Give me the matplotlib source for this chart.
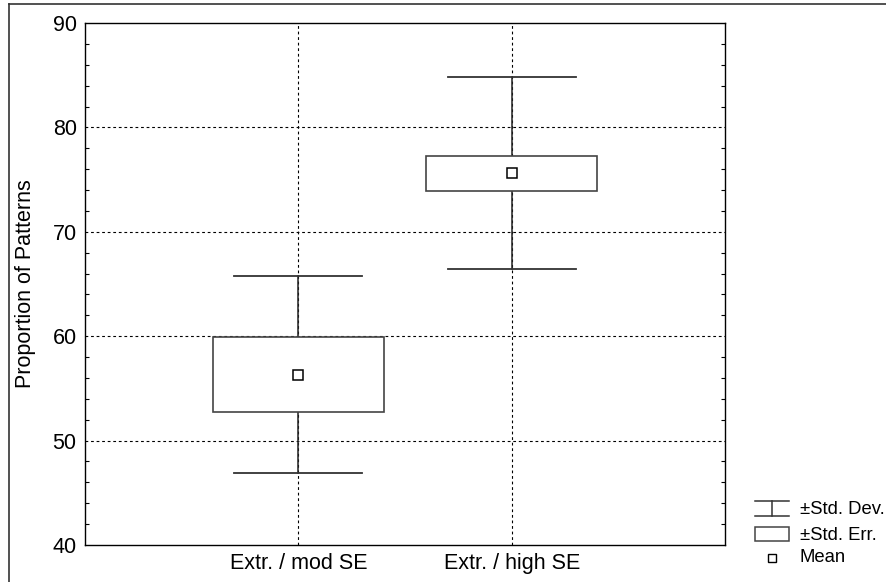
import matplotlib
matplotlib.use("Agg")
import matplotlib.pyplot as plt
from matplotlib.lines import Line2D
from matplotlib.patches import Rectangle

plt.rcParams['font.family'] = ['Liberation Sans', 'DejaVu Sans']

categories = ["Extr. / mod SE", "Extr. / high SE"]
means = [56.3, 75.6]
se_low = [52.7, 73.9]
se_high = [59.9, 77.3]
sd_low = [46.9, 66.4]
sd_high = [65.8, 84.8]
yticks = [40, 50, 60, 70, 80, 90]

fig = plt.figure(figsize=(8.87, 5.82), dpi=100)
ax = fig.add_axes([85/887, 1-545/582, 640/887, 522/582])

positions = [1, 2]
box_w = 0.8
cap_w = 0.6
grid_kw = dict(color='black', lw=0.8, linestyle=(0, (2.5, 2.5)), zorder=1)

for y in yticks[1:-1]:
    ax.axhline(y, **grid_kw)
for p in positions:
    ax.axvline(p, **grid_kw)

for p, m, sl, sh, dl, dh in zip(positions, means, se_low, se_high, sd_low, sd_high):
    ax.add_patch(Rectangle((p - box_w/2, sl), box_w, sh - sl, facecolor='white',
                           edgecolor='#444444', lw=1.2, zorder=3))
    ax.plot([p, p], [sh, dh], color='#222222', lw=1.1, zorder=2)
    ax.plot([p, p], [dl, sl], color='#222222', lw=1.1, zorder=2)
    ax.plot([p - cap_w/2, p + cap_w/2], [dh, dh], color='#333333', lw=1.3, zorder=3)
    ax.plot([p - cap_w/2, p + cap_w/2], [dl, dl], color='#333333', lw=1.3, zorder=3)
    ax.plot([p], [m], marker='s', markersize=6.5, markerfacecolor='white',
            markeredgecolor='black', markeredgewidth=1.1, zorder=4, linestyle='none')

ax.set_xlim(0, 3)
ax.set_ylim(40, 90)
ax.set_xticks(positions)
ax.set_xticklabels(categories, fontsize=15.5)
ax.set_yticks(yticks)
ax.set_yticklabels([str(v) for v in yticks], fontsize=15.5)
ax.set_yticks(range(40, 91, 2), minor=True)
ax.tick_params(axis='both', which='major', length=0, pad=6)
ax.tick_params(axis='y', which='minor', direction='in', length=3, width=0.8,
               left=True, right=True)
ax.tick_params(axis='x', which='minor', length=0)
ax.set_ylabel("Proportion of Patterns", fontsize=15.5, labelpad=12)
for s in ax.spines.values():
    s.set_linewidth(1.0)
    s.set_color('black')

# outer frame
fig.add_artist(Line2D([9/887, 1.0], [1-4/582, 1-4/582], transform=fig.transFigure,
                      color='#333333', lw=1.2))
fig.add_artist(Line2D([9/887, 9/887], [0, 1-4/582], transform=fig.transFigure,
                      color='#333333', lw=1.2))

# legend
W, H = 887, 582
def fx(x): return x / W
def fy(y): return 1 - y / H
tr = fig.transFigure
lx0, lx1 = 755, 789
# std dev symbol
fig.add_artist(Line2D([fx(lx0), fx(lx1)], [fy(501), fy(501)], transform=tr, color='#333333', lw=1.1))
fig.add_artist(Line2D([fx(lx0), fx(lx1)], [fy(516), fy(516)], transform=tr, color='#333333', lw=1.1))
fig.add_artist(Line2D([fx(772), fx(772)], [fy(501), fy(516)], transform=tr, color='#333333', lw=1.1))
# std err symbol
fig.add_artist(Rectangle((fx(lx0), fy(541)), fx(lx1) - fx(lx0), fy(527) - fy(541),
                         transform=tr, facecolor='white', edgecolor='#444444', lw=1.1))
# mean symbol
fig.add_artist(Line2D([fx(772)], [fy(558)], transform=tr, marker='s', markersize=6,
                      markerfacecolor='white', markeredgecolor='black', markeredgewidth=1.0,
                      linestyle='none'))
for txt, yy in [("±Std. Dev.", 510), ("±Std. Err.", 536), ("Mean", 558)]:
    fig.text(fx(800), fy(yy), txt, fontsize=13.3, va='center', ha='left')

fig.savefig("out.png", dpi=100)
